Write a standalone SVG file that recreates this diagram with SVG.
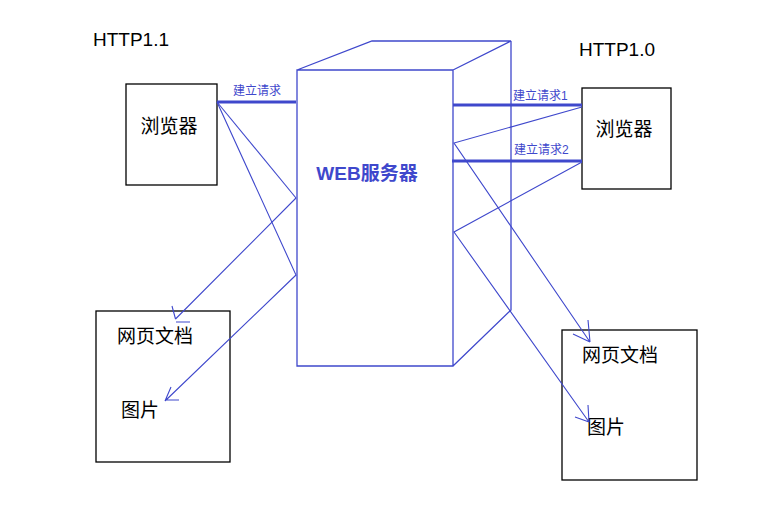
<svg xmlns="http://www.w3.org/2000/svg" width="774" height="517" viewBox="0 0 774 517">
<style>
.box{fill:none;stroke:#000;stroke-width:1.3}
.srv{fill:none;stroke:#3f48cc;stroke-width:1.3}
.thin{fill:none;stroke:#3f48cc;stroke-width:1.1}
.thick{fill:none;stroke:#3f48cc;stroke-width:3}
.t{font-family:"Liberation Sans","Noto Sans CJK SC",sans-serif;fill:#000}
.lbl{font-family:"Liberation Sans","Noto Sans CJK SC",sans-serif;fill:#3f48cc;font-size:12px}
</style>
<rect width="774" height="517" fill="#fff"/>
<text class="t" x="93" y="46" font-size="19">HTTP1.1</text>
<text class="t" x="579" y="56" font-size="19">HTTP1.0</text>
<g id="server">
<path class="srv" d="M297,70 H453 V366 H297 Z M297,70 L372,41 H511 L453,70 M511,41 V310 L453,366"/>
<text x="367" y="180" text-anchor="middle" font-family="Liberation Sans,'Noto Sans CJK SC',sans-serif" font-weight="bold" font-size="19" fill="#3f48cc">WEB服务器</text>
</g>
<g id="browser-left">
<rect class="box" x="126" y="84" width="91" height="101"/>
<text class="t" x="169" y="133" font-size="19" text-anchor="middle">浏览器</text>
</g>
<g id="browser-right">
<rect class="box" x="582" y="88" width="89" height="101"/>
<text class="t" x="624" y="136" font-size="19" text-anchor="middle">浏览器</text>
</g>
<g id="doc-left">
<rect class="box" x="96" y="311" width="134" height="151"/>
<text class="t" x="155" y="343" font-size="19" text-anchor="middle">网页文档</text>
<text class="t" x="140" y="417" font-size="19" text-anchor="middle">图片</text>
</g>
<g id="doc-right">
<rect class="box" x="562" y="330" width="135" height="150"/>
<text class="t" x="620" y="362" font-size="19" text-anchor="middle">网页文档</text>
<text class="t" x="606" y="434" font-size="19" text-anchor="middle">图片</text>
</g>
<g id="connectors">
<path class="thick" d="M217,102 H296"/>
<text class="lbl" x="233" y="95">建立请求</text>
<path class="thick" d="M453,105 H582"/>
<text class="lbl" x="513" y="100">建立请求1</text>
<path class="thick" d="M452,161 H582"/>
<text class="lbl" x="514" y="154">建立请求2</text>
<path class="thin" d="M217,102 L296,198"/>
<path class="thin" d="M296,198 L175.5,319 M172,306 L175.5,319 M176,322 H190"/>
<path class="thin" d="M217,102 L296,275 L165,401 M171,387 L165,401 M165,400 H179"/>
<path class="thin" d="M582,107 L454,143 L590,342 M588,320 L590,342 M573,334 L590,342"/>
<path class="thin" d="M582,162 L454,232 L589,422 M588,405 L589,422 M575,417 L589,422"/>
</g>
</svg>
